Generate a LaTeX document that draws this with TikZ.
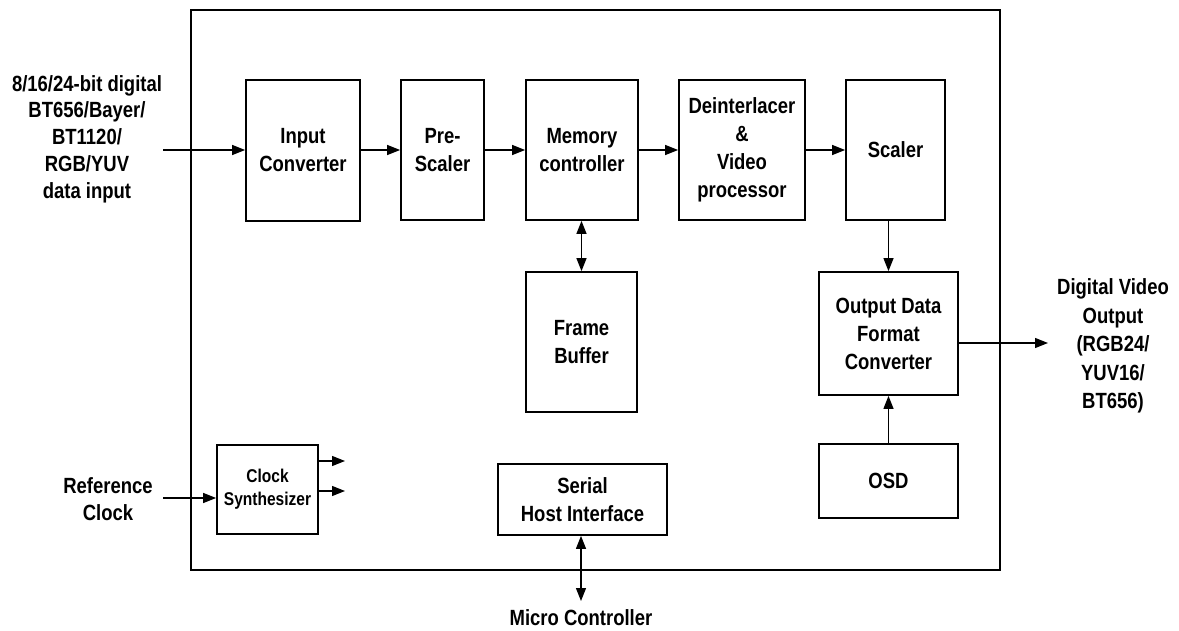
\documentclass[tikz,border=0pt]{standalone}
\usepackage{fontspec}
\setmainfont{Liberation Sans}[FakeStretch=0.84]
\usetikzlibrary{arrows.meta}
\begin{document}
\begin{tikzpicture}[x=1pt,y=-1pt,
  blk/.style={draw,line width=1.8pt,rectangle,inner sep=0pt,align=center,
    font=\fontsize{22}{28}\selectfont\bfseries},
  lbl/.style={align=center,inner sep=0pt,font=\fontsize{22}{27}\selectfont\bfseries},
  arr/.style={line width=1.2pt,-{Triangle[length=13pt,width=10pt]}},
  darr/.style={line width=1.2pt,{Triangle[length=13pt,width=10pt]}-{Triangle[length=13pt,width=10pt]}}]
\useasboundingbox (0,0) rectangle (1179,631);
\draw[line width=1.8pt] (191,10) rectangle (1000,570);
\node[blk,minimum width=114pt,minimum height=141pt] (inc) at (303,150.5) {Input\\Converter};
\node[blk,minimum width=83pt,minimum height=140pt] (pre) at (442.5,150) {Pre-\\Scaler};
\node[blk,minimum width=112pt,minimum height=140pt] (mem) at (582,150) {Memory\\controller};
\node[blk,minimum width=126pt,minimum height=140pt] (dei) at (742,150) {Deinterlacer\\\&\\Video\\processor};
\node[blk,minimum width=99pt,minimum height=140pt] (sca) at (895.5,150) {Scaler};
\node[blk,minimum width=111pt,minimum height=140pt] (fb) at (581.5,342) {Frame\\Buffer};
\node[blk,minimum width=169pt,minimum height=71pt] (shi) at (582.5,499.5) {Serial\\Host Interface};
\node[blk,minimum width=139pt,minimum height=123pt] (odf) at (888.5,333.5) {Output Data\\Format\\Converter};
\node[blk,minimum width=139pt,minimum height=74pt] (osd) at (888.5,481) {OSD};
\node[blk,minimum width=101pt,minimum height=89pt,font=\fontsize{18.5}{23}\selectfont\bfseries] (clk) at (267.5,489.5) {Clock\\Synthesizer};

\node[lbl,font=\fontsize{22}{26.7}\selectfont\bfseries] (din) at (87,139) {8/16/24-bit digital\\BT656/Bayer/\\BT1120/\\RGB/YUV\\data input};
\node[lbl] (ref) at (108,499) {Reference\\Clock};
\node[lbl,font=\fontsize{22}{28.5}\selectfont\bfseries] (dvo) at (1113,346) {Digital Video\\Output\\(RGB24/\\YUV16/\\BT656)};
\node[lbl] (mc) at (581,618) {Micro Controller};

\coordinate (inS) at (163,150);
\coordinate (refS) at (163,498);
\coordinate (outE) at (1048,343);
\coordinate (mcE) at (581,601);
\coordinate (c1) at (345,461);
\coordinate (c2) at (345,491);

\draw[arr] (inS) -- (inc.west |- inS);
\draw[arr] (inc.east |- inS) -- (pre.west |- inS);
\draw[arr] (pre.east |- inS) -- (mem.west |- inS);
\draw[arr] (mem.east |- inS) -- (dei.west |- inS);
\draw[arr] (dei.east |- inS) -- (sca.west |- inS);
\draw[arr] (odf.north |- sca.south) -- (odf.north);
\draw[arr] (osd.north) -- (odf.south);
\draw[arr] (odf.east |- outE) -- (outE);
\draw[darr] (mem.south -| fb.north) -- (fb.north);
\draw[darr] (shi.south -| mcE) -- (mcE);
\draw[arr] (refS) -- (clk.west |- refS);
\draw[arr] (clk.east |- c1) -- (c1);
\draw[arr] (clk.east |- c2) -- (c2);
\end{tikzpicture}
\end{document}
